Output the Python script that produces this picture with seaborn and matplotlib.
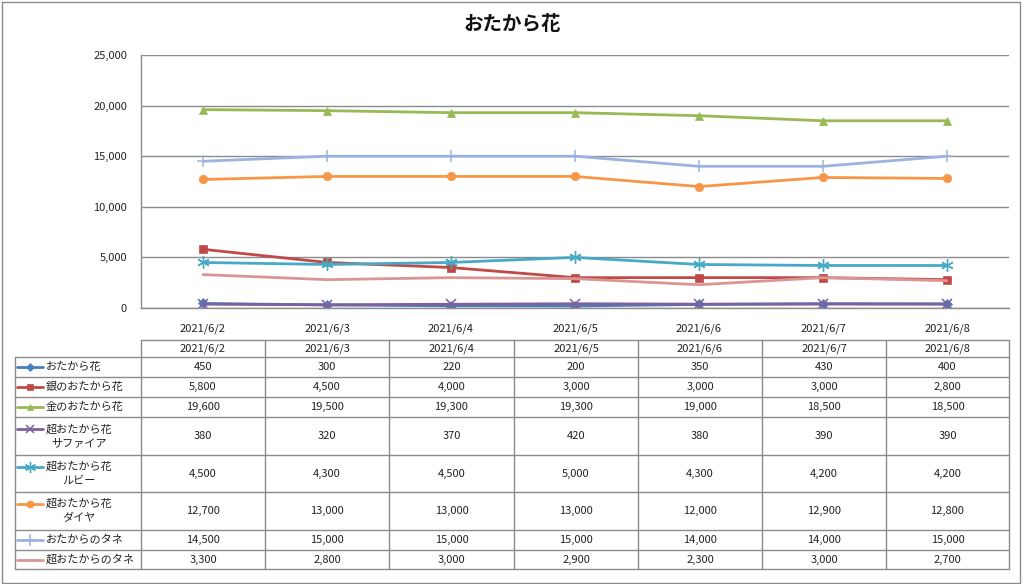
import matplotlib
matplotlib.use("Agg")
import matplotlib.pyplot as plt
import numpy as np
import pandas as pd
import seaborn as sns

sns.set_theme(style="white")
plt.rcParams['font.family'] = ['Noto Sans CJK JP', 'DejaVu Sans']

# ---------------- data ----------------
title = "おたから花"
dates = ["2021/6/2", "2021/6/3", "2021/6/4", "2021/6/5", "2021/6/6", "2021/6/7", "2021/6/8"]
series_names = ["おたから花", "銀のおたから花", "金のおたから花", "超おたから花\nサファイア",
                "超おたから花\nルビー", "超おたから花\nダイヤ", "おたからのタネ", "超おたからのタネ"]
otakara_hana = [450, 300, 220, 200, 350, 430, 400]
gin_hana = [5800, 4500, 4000, 3000, 3000, 3000, 2800]
kin_hana = [19600, 19500, 19300, 19300, 19000, 18500, 18500]
sapphire = [380, 320, 370, 420, 380, 390, 390]
ruby = [4500, 4300, 4500, 5000, 4300, 4200, 4200]
diamond = [12700, 13000, 13000, 13000, 12000, 12900, 12800]
tane = [14500, 15000, 15000, 15000, 14000, 14000, 15000]
cho_tane = [3300, 2800, 3000, 2900, 2300, 3000, 2700]
values = [otakara_hana, gin_hana, kin_hana, sapphire, ruby, diamond, tane, cho_tane]
y_ticks = [0, 5000, 10000, 15000, 20000, 25000]

# ---------------- styles ----------------
colors = ["#4A7EBB", "#BE4B48", "#98B954", "#7D60A0", "#46AAC5", "#F79646", "#9DB3DF", "#D99694"]
markers = ["D", "s", "^", "x", (6, 2, 0), "o", "+", None]
msizes = [5, 6, 6, 7, 9, 6, 9, 0]
mews = [0.5, 0.5, 0.5, 1.1, 1.0, 0.5, 1.1, 0]

W, H = 1024, 584
fig = plt.figure(figsize=(W / 100, H / 100), dpi=100)

# overlay axes in pixel coordinates (border + table)
ov = fig.add_axes([0, 0, 1, 1], zorder=0)
ov.set_xlim(0, W)
ov.set_ylim(H, 0)
ov.axis("off")
ov.patch.set_alpha(0)

gc = "#8C8C8C"
tc = "#222222"
# outer frame
ov.plot([1.5, 1019.5, 1019.5, 1.5, 1.5], [1.5, 1.5, 582.5, 582.5, 1.5], color=gc, lw=1)

# main chart axes
L, R, T, B = 141, 1009, 55, 308
ax = fig.add_axes([L / W, 1 - B / H, (R - L) / W, (B - T) / H], zorder=2)
ax.patch.set_alpha(0)
x = np.arange(len(dates))
for i in range(len(values)):
    df = pd.DataFrame({"x": x, "y": values[i]})
    sns.lineplot(data=df, x="x", y="y", ax=ax, color=colors[i], lw=2.0,
                 marker=markers[i], markersize=msizes[i],
                 markeredgecolor=colors[i], markeredgewidth=mews[i],
                 legend=False)
ax.set_xlim(-0.5, len(dates) - 0.5)
ax.set_ylim(0, 25000)
ax.set_yticks(y_ticks)
ax.set_yticklabels([f"{v:,}" for v in y_ticks], fontsize=8, color=tc)
ax.set_xticks(x)
ax.set_xticklabels(dates, fontsize=8, color=tc)
ax.tick_params(axis="both", length=0, pad=10)
ax.tick_params(axis="x", pad=11)
ax.set_xlabel("")
ax.set_ylabel("")
for yv in y_ticks:
    ax.axhline(yv, color=gc, lw=1, zorder=0)
for s in ["top", "right"]:
    ax.spines[s].set_visible(False)
ax.spines["left"].set_color(gc)
ax.spines["left"].set_linewidth(1)
ax.spines["bottom"].set_color(gc)
ax.spines["bottom"].set_linewidth(1)
ax.grid(False)

fig.text(0.5, 1 - 25 / H, title, ha="center", va="center", fontsize=14, fontweight="bold", color="#111111")

# ---------------- data table ----------------
col_edges = [15, 141, 265, 389, 514, 638, 762, 886, 1009]
row_edges = [340, 357, 377, 397, 417, 455, 492, 530, 550, 569]
ov.plot([col_edges[1], col_edges[-1]], [row_edges[0], row_edges[0]], color=gc, lw=1)
for ry in row_edges[1:]:
    ov.plot([col_edges[0], col_edges[-1]], [ry, ry], color=gc, lw=1)
ov.plot([col_edges[0], col_edges[0]], [row_edges[1], row_edges[-1]], color=gc, lw=1)
for cx in col_edges[1:]:
    ov.plot([cx, cx], [row_edges[0], row_edges[-1]], color=gc, lw=1)

for j, d in enumerate(dates):
    cxm = (col_edges[j + 1] + col_edges[j + 2]) / 2
    ov.text(cxm, (row_edges[0] + row_edges[1]) / 2, d, ha="center", va="center", fontsize=8, color=tc)

for i, name in enumerate(series_names):
    y0, y1 = row_edges[i + 1], row_edges[i + 2]
    cy = (y0 + y1) / 2
    multi = "\n" in name
    ky = cy - 7 if multi else cy
    ov.plot([17, 43], [ky, ky], color=colors[i], lw=2)
    if markers[i] is not None:
        ov.plot([30], [ky], marker=markers[i], color=colors[i], markersize=msizes[i] - 1,
                markeredgecolor=colors[i], markeredgewidth=mews[i], linestyle="none")
    ov.text(46, cy, name, ha="left", va="center", multialignment="center", fontsize=8,
            color=tc, linespacing=1.5)
    for j, v in enumerate(values[i]):
        cxm = (col_edges[j + 1] + col_edges[j + 2]) / 2
        ov.text(cxm, cy, f"{v:,}", ha="center", va="center", fontsize=8, color=tc)

fig.savefig("out.png", dpi=100)
